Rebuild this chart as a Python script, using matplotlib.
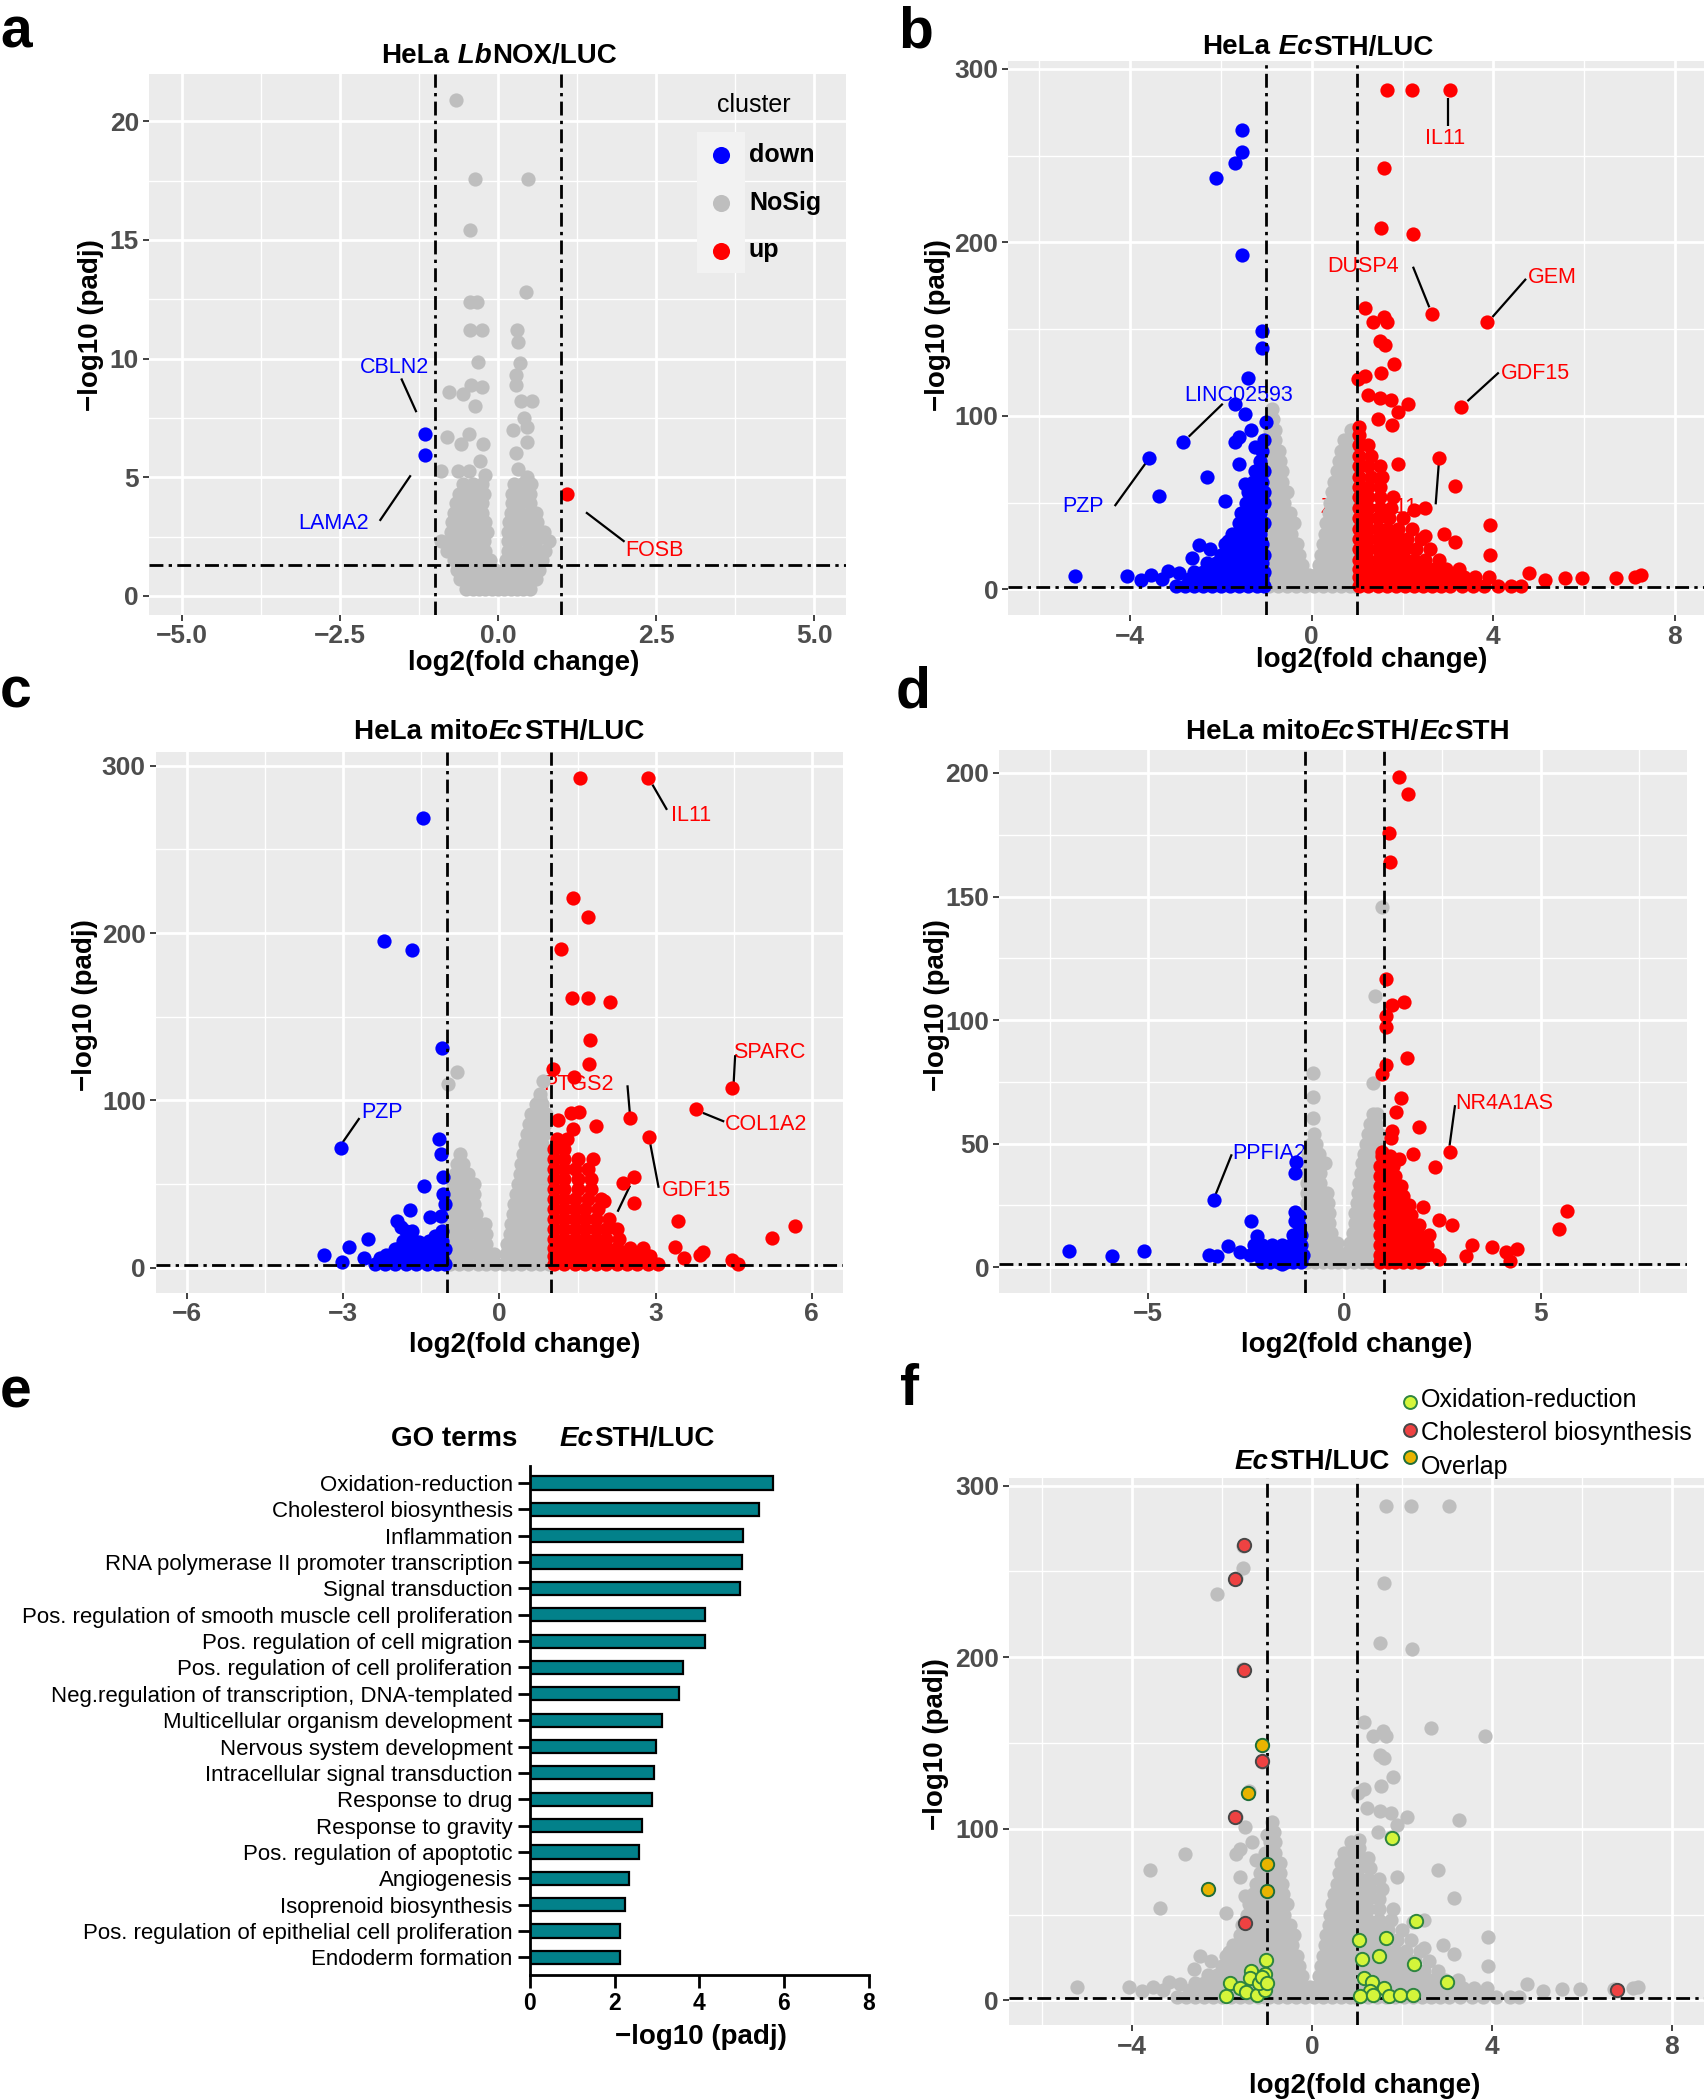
import matplotlib
matplotlib.use("Agg")
import matplotlib.pyplot as plt
from matplotlib import font_manager
from matplotlib.patches import Rectangle

# ======================= DATA =======================
# ---- panel a : HeLa LbNOX/LUC ----
a_nosig = [(-0.67, 20.9), (-0.37, 17.56), (0.47, 17.56), (-0.45, 15.4), (0.44, 12.8),
           (-0.45, 12.4), (-0.34, 12.4), (0.30, 11.2), (0.32, 10.7), (-0.44, 11.2),
           (-0.26, 11.2), (-0.32, 9.85), (0.35, 9.8), (0.29, 9.3), (0.29, 8.9),
           (-0.42, 8.9), (-0.26, 8.8), (-0.77, 8.57), (-0.55, 8.5), (-0.37, 8.0),
           (0.37, 8.2), (0.54, 8.2), (0.41, 7.5), (0.24, 7.0), (0.45, 7.1),
           (-0.81, 6.7), (-0.46, 6.8), (-0.59, 6.4), (-0.24, 6.4), (0.45, 6.5),
           (0.28, 6.0), (-0.29, 5.7), (-0.90, 5.27), (-0.64, 5.27), (-0.46, 5.27),
           (0.32, 5.36), (-0.20, 5.1), (0.45, 5.0)]
a_nosig_rows = [
    (0.3, [-0.5, -0.4, -0.3, -0.2, -0.1, 0.0, 0.1, 0.2, 0.3, 0.4, 0.5]),
    (0.7, [-0.6, -0.45, -0.3, -0.15, 0.0, 0.15, 0.3, 0.45, 0.6]),
    (1.1, [-0.65, -0.5, -0.35, -0.2, -0.05, 0.1, 0.25, 0.4, 0.55, 0.65]),
    (1.5, [-0.7, -0.55, -0.4, -0.25, -0.12, 0.12, 0.25, 0.4, 0.55, 0.7]),
    (1.9, [-0.8, -0.65, -0.5, -0.35, -0.2, 0.15, 0.3, 0.45, 0.6, 0.75]),
    (2.3, [-0.9, -0.72, -0.55, -0.4, -0.22, 0.15, 0.3, 0.45, 0.6, 0.8]),
    (2.7, [-0.75, -0.6, -0.45, -0.3, -0.18, 0.15, 0.3, 0.45, 0.6, 0.72]),
    (3.1, [-0.72, -0.58, -0.44, -0.3, -0.2, 0.18, 0.32, 0.46, 0.62]),
    (3.5, [-0.7, -0.55, -0.4, -0.25, 0.2, 0.35, 0.5, 0.6]),
    (3.9, [-0.66, -0.52, -0.38, -0.25, 0.22, 0.35, 0.5]),
    (4.3, [-0.62, -0.48, -0.35, -0.22, 0.22, 0.35, 0.5]),
    (4.7, [-0.55, -0.4, -0.25, 0.25, 0.38, 0.52]),
]
a_down = [(-1.16, 6.8), (-1.16, 5.94)]
a_up = [(1.09, 4.29)]
a_xticks = [-5.0, -2.5, 0.0, 2.5, 5.0]
a_xticklabels = ["\u22125.0", "\u22122.5", "0.0", "2.5", "5.0"]
a_yticks = [0, 5, 10, 15, 20]
a_labels = [("CBLN2", -1.64, 9.62, -1.53, 9.16, -1.29, 7.74, "down"),
            ("LAMA2", -2.60, 3.06, -1.87, 3.16, -1.38, 5.08, "down"),
            ("FOSB", 2.47, 1.93, 1.39, 3.52, 2.00, 2.28, "up")]
legend_cats = ["down", "NoSig", "up"]

# ---- panel b : HeLa EcSTH/LUC ----
b_nosig_rows = [
    (2, [-0.95, -0.75, -0.55, -0.35, -0.15, 0.05, 0.25, 0.45, 0.65, 0.85, 0.95]),
    (8, [-0.95, -0.77, -0.58, -0.4, -0.2, -0.05, 0.1, 0.28, 0.46, 0.64, 0.82, 0.95]),
    (14, [-0.95, -0.77, -0.58, -0.4, -0.22, 0.15, 0.32, 0.5, 0.68, 0.85, 0.95]),
    (20, [-0.95, -0.77, -0.6, -0.42, -0.28, 0.2, 0.38, 0.56, 0.74, 0.9]),
    (26, [-0.95, -0.78, -0.6, -0.45, -0.32, 0.25, 0.42, 0.6, 0.78, 0.95]),
    (32, [-0.95, -0.78, -0.62, -0.45, 0.3, 0.48, 0.65, 0.82, 0.95]),
    (38, [-0.95, -0.78, -0.62, -0.4, 0.32, 0.5, 0.68, 0.85]),
    (44, [-0.95, -0.8, -0.62, -0.48, 0.37, 0.55, 0.72, 0.9]),
    (50, [-0.95, -0.8, -0.62, 0.4, 0.58, 0.75, 0.92]),
    (56, [-0.95, -0.8, -0.64, -0.55, 0.45, 0.62, 0.8, 0.95]),
    (62, [-0.95, -0.8, -0.65, 0.5, 0.65, 0.82]),
    (68, [-0.95, -0.8, -0.66, 0.55, 0.7, 0.86]),
    (74, [-0.95, -0.82, -0.7, 0.6, 0.75, 0.92]),
    (80, [-0.95, -0.82, -0.72, 0.65, 0.8, 0.95]),
    (86, [-0.95, -0.82, 0.72, 0.86]),
    (92, [-0.93, -0.82, 0.87]),
    (98, [-0.9, -0.85]),
    (104, [-0.88]),
]
b_down = [(-1.53, 265), (-1.53, 252), (-1.69, 246), (-2.11, 237), (-1.54, 193),
          (-1.10, 149), (-1.10, 139), (-1.40, 122), (-1.69, 107), (-1.48, 101),
          (-1.00, 96.5), (-1.33, 92), (-1.60, 88), (-1.69, 85), (-1.24, 82),
          (-2.83, 85), (-3.59, 76), (-2.30, 64.6), (-3.37, 53.8), (-1.90, 50.8),
          (-1.60, 72), (-1.48, 61), (-1.84, 28), (-2.49, 25.6), (-2.25, 23),
          (-2.63, 18), (-5.22, 7.5), (-4.07, 7.5), (-3.77, 5.5), (-3.53, 8),
          (-3.17, 10.5), (-2.93, 9.3)]
b_down_rows = [
    (2, [-3.0, -2.8, -2.6, -2.4, -2.2, -2.0, -1.8, -1.6, -1.4, -1.2, -1.05]),
    (6, [-3.3, -2.7, -2.5, -2.3, -2.1, -1.9, -1.7, -1.5, -1.3, -1.1]),
    (10, [-2.6, -2.4, -2.2, -2.0, -1.8, -1.6, -1.4, -1.2, -1.05]),
    (15, [-2.3, -2.1, -1.9, -1.7, -1.5, -1.3, -1.1]),
    (20, [-2.0, -1.8, -1.6, -1.4, -1.2, -1.05]),
    (26, [-1.9, -1.7, -1.5, -1.3, -1.1]),
    (32, [-1.75, -1.55, -1.35, -1.15]),
    (38, [-1.6, -1.4, -1.2, -1.05]),
    (44, [-1.55, -1.35, -1.15]),
    (50, [-1.45, -1.25, -1.05]),
    (56, [-1.4, -1.2, -1.05]),
    (62, [-1.3, -1.1]),
    (68, [-1.25, -1.05]),
    (74, [-1.15]),
    (80, [-1.1]),
    (86, [-1.05]),
]
b_up = [(1.65, 288), (2.20, 288), (3.04, 288), (1.60, 243), (1.52, 208.5), (2.23, 205),
        (2.65, 159), (3.86, 154), (1.17, 162), (1.35, 154), (1.65, 154), (1.59, 157),
        (1.51, 143), (1.61, 141), (1.81, 130), (1.53, 125), (1.17, 123), (1.02, 121),
        (1.23, 112), (1.51, 110.5), (1.75, 109), (2.11, 107), (1.89, 102), (3.28, 105),
        (1.47, 98), (1.77, 95), (1.05, 93.5), (2.80, 76), (1.89, 72), (3.16, 59.5),
        (3.92, 37), (3.16, 27), (3.92, 20), (4.78, 9.3), (5.14, 5.5), (5.57, 6.3),
        (5.96, 6.8), (6.71, 6.8), (7.13, 7.3), (7.25, 8), (4.60, 1.8), (2.49, 30.6),
        (2.92, 32), (2.49, 47), (2.25, 45.7)]
b_up_rows = [
    (2, [1.05, 1.25, 1.45, 1.65, 1.85, 2.05, 2.25, 2.45, 2.65, 2.85, 3.05, 3.3, 3.55, 3.8, 4.1, 4.4]),
    (7, [1.05, 1.25, 1.45, 1.65, 1.85, 2.05, 2.25, 2.45, 2.65, 2.85, 3.1, 3.35, 3.6, 3.9]),
    (12, [1.05, 1.25, 1.45, 1.65, 1.85, 2.05, 2.25, 2.45, 2.7, 2.95, 3.25]),
    (17, [1.05, 1.25, 1.45, 1.65, 1.85, 2.05, 2.25, 2.5, 2.8]),
    (23, [1.05, 1.25, 1.45, 1.65, 1.85, 2.05, 2.3, 2.6]),
    (29, [1.05, 1.25, 1.45, 1.65, 1.85, 2.1, 2.4]),
    (35, [1.05, 1.25, 1.45, 1.65, 1.9, 2.2]),
    (41, [1.05, 1.25, 1.45, 1.7, 2.0]),
    (47, [1.05, 1.25, 1.5, 1.75]),
    (53, [1.05, 1.25, 1.5, 1.8]),
    (59, [1.05, 1.25, 1.5]),
    (65, [1.05, 1.3, 1.55]),
    (71, [1.05, 1.25, 1.5]),
    (77, [1.05, 1.3]),
    (83, [1.05, 1.25]),
    (89, [1.05]),
]
b_xticks = [-4, 0, 4, 8]
b_xticklabels = ["\u22124", "0", "4", "8"]
b_yticks = [0, 100, 200, 300]
b_labels = [("IL11", 2.94, 260, 3.01, 283, 3.01, 267, "up"),
            ("DUSP4", 1.14, 186, 2.23, 186, 2.59, 162.6, "up"),
            ("GEM", 5.29, 180, 4.72, 179, 3.98, 157, "up"),
            ("GDF15", 4.93, 124.6, 4.12, 125, 3.43, 108.5, "up"),
            ("LINC02593", -1.60, 112, -1.96, 107, -2.71, 88, "down"),
            ("PZP", -5.04, 47.7, -4.34, 48, -3.65, 73, "down"),
            ("ZDHHC11", 1.27, 47, 2.73, 49, 2.80, 73, "up")]

# ---- panel c : HeLa mitoEcSTH/LUC ----
c_nosig = [(-0.81, 116.8), (-0.98, 110), (0.78, 101), (0.84, 111.5), (0.66, 89)]
c_nosig_rows = [
    (2, [-0.95, -0.78, -0.6, -0.42, -0.25, -0.08, 0.08, 0.25, 0.42, 0.6, 0.78, 0.95]),
    (8, [-0.95, -0.78, -0.6, -0.42, -0.25, -0.1, 0.12, 0.28, 0.45, 0.62, 0.8, 0.95]),
    (14, [-0.95, -0.78, -0.6, -0.42, -0.25, 0.15, 0.32, 0.5, 0.68, 0.85, 0.95]),
    (20, [-0.95, -0.78, -0.6, -0.42, -0.25, 0.2, 0.36, 0.52, 0.68, 0.85, 0.95]),
    (26, [-0.95, -0.78, -0.6, -0.42, -0.28, 0.22, 0.4, 0.56, 0.72, 0.88]),
    (32, [-0.95, -0.78, -0.6, -0.45, 0.26, 0.42, 0.58, 0.75, 0.92]),
    (38, [-0.95, -0.78, -0.62, -0.48, 0.28, 0.45, 0.62, 0.78, 0.95]),
    (44, [-0.92, -0.76, -0.6, -0.48, 0.32, 0.48, 0.65, 0.82, 0.95]),
    (50, [-0.9, -0.75, -0.6, -0.48, 0.36, 0.52, 0.68, 0.85]),
    (56, [-0.86, -0.72, -0.6, 0.4, 0.56, 0.72, 0.88]),
    (62, [-0.82, -0.7, 0.42, 0.58, 0.75, 0.92]),
    (68, [-0.75, 0.46, 0.62, 0.78, 0.95]),
    (74, [0.5, 0.65, 0.82]),
    (80, [0.52, 0.68, 0.85]),
    (86, [0.56, 0.72, 0.88]),
    (92, [0.6, 0.76, 0.9]),
    (98, [0.7, 0.82]),
    (104, [0.78]),
]
c_down = [(-1.47, 268.7), (-2.22, 195), (-1.68, 190), (-1.11, 131.6), (-3.05, 71.7),
          (-1.17, 77), (-1.12, 67.8), (-1.09, 54), (-1.45, 49), (-1.72, 34.7),
          (-1.34, 30), (-1.97, 28), (-1.90, 24), (-1.68, 21.6), (-1.55, 15),
          (-2.52, 17), (-2.90, 12.5), (-3.37, 7.3), (-3.03, 3.4), (-2.61, 6),
          (-2.18, 7.3), (-1.97, 11.2), (-1.71, 12.5), (-1.44, 4.7), (-1.23, 19),
          (-1.12, 30.8)]
c_down_rows = [
    (2, [-2.4, -2.2, -2.0, -1.8, -1.6, -1.4, -1.2, -1.05]),
    (6, [-2.3, -2.1, -1.9, -1.7, -1.5, -1.3, -1.1]),
    (11, [-2.0, -1.8, -1.6, -1.4, -1.2, -1.05]),
    (16, [-1.85, -1.65, -1.35, -1.1]),
    (22, [-1.8, -1.1]),
    (38, [-1.05]),
    (44, [-1.08]),
]
c_up = [(1.55, 292.7), (2.86, 292.7), (1.42, 221), (1.71, 209.8), (1.19, 190.5),
        (1.39, 161), (1.70, 161), (2.13, 159), (1.74, 136.3), (1.72, 122), (1.02, 118.6),
        (1.44, 114), (4.47, 107.6), (3.78, 94.6), (2.51, 89.4), (2.88, 78.2), (1.37, 92.5),
        (1.53, 93.3), (1.12, 88), (1.85, 84.7), (1.42, 83), (2.59, 54), (2.38, 50.3),
        (2.59, 38.6), (3.44, 28), (3.37, 12.5), (3.54, 6), (3.86, 7.8), (3.91, 9.4),
        (4.46, 4.7), (4.58, 2), (5.23, 17.7), (5.68, 24.8), (2.0, 40)]
c_up_rows = [
    (2, [1.05, 1.25, 1.45, 1.65, 1.85, 2.05, 2.25, 2.45, 2.65, 2.85, 3.05]),
    (7, [1.05, 1.25, 1.45, 1.65, 1.85, 2.05, 2.25, 2.45, 2.7, 2.9]),
    (12, [1.05, 1.25, 1.45, 1.65, 1.85, 2.05, 2.25, 2.5, 2.75]),
    (17, [1.05, 1.25, 1.45, 1.65, 1.85, 2.05, 2.3]),
    (23, [1.05, 1.25, 1.45, 1.65, 1.85, 2.05, 2.25]),
    (29, [1.05, 1.25, 1.45, 1.65, 1.85, 2.1]),
    (35, [1.05, 1.25, 1.45, 1.65, 1.9]),
    (41, [1.05, 1.25, 1.45, 1.7, 1.95]),
    (47, [1.05, 1.25, 1.5, 1.75]),
    (53, [1.05, 1.25, 1.5, 1.75]),
    (59, [1.05, 1.25, 1.45, 1.7]),
    (65, [1.05, 1.25, 1.5, 1.8]),
    (71, [1.05, 1.25]),
    (77, [1.1, 1.3]),
]
c_xticks = [-6, -3, 0, 3, 6]
c_xticklabels = ["\u22126", "\u22123", "0", "3", "6"]
c_yticks = [0, 100, 200, 300]
c_labels = [("IL11", 3.68, 270.5, 2.94, 288.8, 3.22, 273.7, "up"),
            ("SPARC", 5.19, 128.5, 4.50, 110, 4.53, 127, "up"),
            ("COL1A2", 5.13, 85.5, 3.91, 92.5, 4.32, 87.3, "up"),
            ("PTGS2", 1.51, 109.5, 2.46, 109, 2.51, 90.7, "up"),
            ("GDF15", 3.78, 45.9, 3.06, 47.7, 2.90, 73.8, "up"),
            ("", 0, 0, 2.51, 49, 2.27, 33.4, "up"),
            ("PZP", -2.26, 92.8, -2.69, 89.4, -3.01, 75, "down")]

# ---- panel d : HeLa mitoEcSTH/EcSTH ----
d_nosig = [(-0.81, 78.8), (-0.81, 69), (-0.81, 60.3), (0.77, 109.7), (0.73, 74.4), (0.96, 145.9)]
d_nosig_rows = [
    (2, [-0.95, -0.75, -0.55, -0.35, -0.15, 0.05, 0.25, 0.45, 0.65, 0.85]),
    (6, [-0.95, -0.75, -0.55, -0.35, -0.15, 0.1, 0.3, 0.5, 0.7, 0.88]),
    (10, [-0.95, -0.75, -0.55, -0.35, -0.18, 0.15, 0.35, 0.55, 0.75, 0.9]),
    (14, [-0.95, -0.75, -0.55, -0.35, 0.22, 0.42, 0.62, 0.82]),
    (18, [-0.95, -0.75, -0.55, -0.38, 0.26, 0.45, 0.65, 0.85]),
    (22, [-0.95, -0.77, -0.58, -0.4, 0.28, 0.48, 0.68, 0.88]),
    (26, [-0.95, -0.77, -0.58, -0.42, 0.32, 0.5, 0.7, 0.88]),
    (30, [-0.95, -0.78, -0.6, -0.45, 0.35, 0.52, 0.72, 0.88]),
    (34, [-0.95, -0.78, -0.62, 0.38, 0.55, 0.72, 0.88]),
    (38, [-0.95, -0.8, -0.62, 0.42, 0.58, 0.75, 0.9]),
    (42, [-0.95, -0.8, -0.65, -0.5, 0.45, 0.62, 0.78, 0.9]),
    (46, [-0.92, -0.78, -0.65, 0.5, 0.65, 0.8, 0.9]),
    (50, [-0.85, -0.72, 0.55, 0.7, 0.85]),
    (54, [-0.78, 0.6, 0.75, 0.88]),
    (58, [0.65, 0.8]),
    (62, [0.72, 0.82]),
]
d_down = [(-3.32, 27.2), (-1.23, 42.7), (-1.26, 38.3), (-1.27, 22.4), (-1.27, 18.9),
          (-1.16, 17.1), (-2.37, 18.9), (-2.23, 12.7), (-2.20, 10), (-2.97, 8.6),
          (-2.66, 6.2), (-3.46, 5.1), (-3.25, 4.4), (-7.02, 6.5), (-5.93, 4.4),
          (-5.10, 6.5), (-1.99, 6.5), (-1.72, 4.8), (-1.44, 6.2), (-1.23, 10),
          (-1.99, 3), (-1.58, 1.2), (-1.16, 20.6)]
d_down_rows = [
    (2, [-2.1, -1.9, -1.7, -1.5, -1.3, -1.1]),
    (5, [-2.4, -2.2, -2.0, -1.8, -1.6, -1.4, -1.2, -1.05]),
    (9, [-2.3, -2.1, -1.85, -1.6, -1.35, -1.1]),
    (13, [-1.3, -1.1]),
]
d_up = [(1.38, 198.4), (1.63, 191.4), (1.14, 175.8), (1.17, 164), (1.05, 116.6),
        (1.53, 107.4), (1.21, 106), (1.07, 101.8), (1.07, 97.4), (1.60, 84.5),
        (1.07, 82), (0.96, 78), (1.44, 68.3), (1.32, 63), (1.91, 56.8), (1.21, 55),
        (1.19, 52.4), (2.68, 46.7), (0.96, 46.7), (1.74, 45.7), (1.39, 44), (2.30, 40.6),
        (2.00, 24.2), (2.40, 19.2), (2.75, 17.1), (5.68, 22.8), (5.47, 15.3), (3.24, 9.2),
        (3.10, 4.4), (3.77, 8.3), (4.11, 6.2), (4.39, 7.4), (4.21, 2.5), (2.40, 3.4)]
d_up_rows = [
    (2, [0.9, 1.1, 1.3, 1.5, 1.7, 1.9]),
    (5, [0.9, 1.1, 1.3, 1.5, 1.7, 1.9, 2.1, 2.3]),
    (9, [0.9, 1.1, 1.3, 1.5, 1.7, 1.9, 2.1]),
    (13, [0.9, 1.1, 1.3, 1.5, 1.7, 1.9, 2.15]),
    (17, [0.9, 1.1, 1.3, 1.5, 1.7, 1.9]),
    (21, [0.9, 1.1, 1.3, 1.5, 1.7]),
    (25, [0.9, 1.1, 1.3, 1.5, 1.65]),
    (29, [0.9, 1.1, 1.3, 1.5]),
    (33, [0.9, 1.1, 1.3, 1.45]),
    (37, [0.9, 1.1, 1.3]),
    (41, [0.9, 1.1, 1.25]),
    (45, [0.95, 1.15]),
]
d_xticks = [-5, 0, 5]
d_xticklabels = ["\u22125", "0", "5"]
d_yticks = [0, 50, 100, 150, 200]
d_labels = [("NR4A1AS", 4.07, 66.1, 2.82, 65.6, 2.68, 49.2, "up"),
            ("PPFIA2", -1.92, 46.2, -2.87, 45.7, -3.28, 29.5, "down")]

# ---- panel e : GO terms EcSTH/LUC ----
go_terms = ["Oxidation-reduction", "Cholesterol biosynthesis", "Inflammation",
            "RNA polymerase II promoter transcription", "Signal transduction",
            "Pos. regulation of smooth muscle cell proliferation",
            "Pos. regulation of cell migration", "Pos. regulation of cell proliferation",
            "Neg.regulation of transcription, DNA-templated",
            "Multicellular organism development", "Nervous system development",
            "Intracellular signal transduction", "Response to drug",
            "Response to gravity", "Pos. regulation of apoptotic", "Angiogenesis",
            "Isoprenoid biosynthesis", "Pos. regulation of epithelial cell proliferation",
            "Endoderm formation"]
go_values = [5.73, 5.41, 5.04, 5.00, 4.97, 4.13, 4.13, 3.62, 3.53, 3.13, 2.97, 2.92,
             2.88, 2.65, 2.58, 2.34, 2.24, 2.13, 2.13]
e_xticks = [0, 2, 4, 6, 8]

# ---- panel f : EcSTH/LUC highlighted GO genes ----
f_oxred = [(1.79, 94.6), (2.31, 46), (1.65, 36.3), (1.05, 35.2), (1.11, 24.3), (1.50, 25.9),
           (2.26, 21), (3.01, 10.6), (1.16, 12.8), (1.34, 10.9), (1.60, 7.4), (1.30, 5.2),
           (1.08, 2.5), (1.72, 2.5), (1.96, 3.3), (2.24, 3.3), (1.36, 3.3), (-1.01, 23.2),
           (-1.35, 16.9), (-1.05, 15.5), (-1.83, 10.1), (-1.59, 7.4), (-1.47, 4.6),
           (-1.23, 3.3), (-1.05, 6.0), (-1.91, 2.5), (-1.37, 12.8), (-1.17, 10.1),
           (-1.11, 13.4), (-0.99, 10.1)]
f_chol = [(-1.52, 265.3), (-1.71, 245.7), (-1.52, 192.5), (-1.10, 139.6), (-1.72, 106.9),
          (-1.48, 45.3), (6.79, 6.0)]
f_overlap = [(-1.10, 148.6), (-1.42, 121), (-0.99, 79.6), (-0.99, 63.8), (-2.30, 64.6)]
f_legend = ["Oxidation-reduction", "Cholesterol biosynthesis", "Overlap"]

# ======================= STYLE / LAYOUT =======================
W, H = 1704, 2100
fig = plt.figure(figsize=(W / 100, H / 100), dpi=100)
fig.patch.set_facecolor("white")

_names = {f.name for f in font_manager.fontManager.ttflist}
SANS = "Liberation Sans" if "Liberation Sans" in _names else "DejaVu Sans"
HAS_NARROW = "Liberation Sans Narrow" in _names
plt.rcParams["font.family"] = [SANS, "DejaVu Sans"]
LBL_FAMILY = ["Liberation Sans Narrow", "DejaVu Sans"] if HAS_NARROW else [SANS, "DejaVu Sans"]
LBL_SIZE = 17.5 if HAS_NARROW else 15.5

BG = "#EBEBEB"
COLORS = {"down": "#0000FF", "NoSig": "#BEBEBE", "up": "#FF0000"}
TEAL = "#02818A"
OX_FILL, OX_EDGE = "#D4F53A", "#2E8540"
CH_FILL, CH_EDGE = "#EE4242", "#474747"
OV_FILL, OV_EDGE = "#E8B400", "#1F6E3A"
DOT = 105
DASH_LW = 2.0
DASH = (0, (5.0, 1.9, 1.2, 1.9))


def fx(x):
    return x / W


def fy(y):
    return 1 - y / H


def px_axes(l, t, r, b):
    return fig.add_axes([l / W, 1 - b / H, (r - l) / W, (b - t) / H])


def rows_xy(rows):
    xs, ys = [], []
    for y, row in rows:
        for x in row:
            xs.append(x)
            ys.append(y)
    return xs, ys


def pairs_xy(pairs):
    return [p[0] for p in pairs], [p[1] for p in pairs]


def merge(*parts):
    xs, ys = [], []
    for px_, py_ in parts:
        xs += px_
        ys += py_
    return xs, ys


def minors(major):
    st = major[1] - major[0]
    return [major[0] - st / 2 + k * st for k in range(len(major) + 1)]


def rich(xc, yb, parts, size, weight="bold", color="black", gap=0.8):
    r = fig.canvas.get_renderer()
    objs = [fig.text(0, fy(yb), s, fontsize=size, fontweight=weight,
                     fontstyle=("italic" if it else "normal"), color=color,
                     va="baseline", ha="left") for s, it in parts]
    ws = [o.get_window_extent(renderer=r).width for o in objs]
    total = sum(ws) + gap * (len(ws) - 1)
    x = xc - total / 2
    for o, w in zip(objs, ws):
        o.set_x(fx(x))
        x += w + gap


def volcano(ax, xlim, ylim, xt, xtl, yt, groups, labels):
    ax.set_facecolor(BG)
    for s in ax.spines.values():
        s.set_visible(False)
    ax.set_xticks(xt)
    ax.set_xticklabels(xtl)
    ax.set_xticks(minors(xt), minor=True)
    ax.set_yticks(yt)
    ax.set_yticklabels([str(v) for v in yt])
    ax.set_yticks(minors(yt), minor=True)
    ax.set_axisbelow(True)
    ax.grid(which="major", color="white", lw=2.0)
    ax.grid(which="minor", color="white", lw=1.0)
    ax.tick_params(which="minor", length=0)
    ax.tick_params(which="major", length=4.5, width=1.3, color="#333333",
                   labelcolor="#4D4D4D", labelsize=19, pad=2.5)
    for lab in ax.get_xticklabels() + ax.get_yticklabels():
        lab.set_fontweight("bold")
    for (xs, ys), kw in groups:
        ax.scatter(xs, ys, s=kw.pop("s", DOT), zorder=kw.pop("zorder", 2),
                   clip_on=True, **kw)
    for xv in (-1, 1):
        ax.axvline(xv, color="black", lw=DASH_LW, ls=DASH, zorder=4)
    ax.axhline(1.3, color="black", lw=DASH_LW, ls=DASH, zorder=4)
    for txt, tx, ty, x0, y0, x1, y1, cat in labels:
        if txt:
            ax.text(tx, ty, txt, color=COLORS[cat], fontsize=LBL_SIZE, family=LBL_FAMILY,
                    ha="center", va="center", zorder=1.5)
        ax.plot([x0, x1], [y0, y1], color="black", lw=1.6, zorder=1.6,
                solid_capstyle="butt")
    ax.set_xlim(*xlim)
    ax.set_ylim(*ylim)


def std_groups(nosig, down, up):
    return [(nosig, dict(c=COLORS["NoSig"], linewidths=0)),
            (down, dict(c=COLORS["down"], linewidths=0)),
            (up, dict(c=COLORS["up"], linewidths=0))]


# ---------------- panel a ----------------
ax_a = px_axes(148.8, 74, 846, 614.6)
volcano(ax_a, (-5.52, 5.50), (-0.79, 21.99), a_xticks, a_xticklabels, a_yticks,
        std_groups(merge(pairs_xy(a_nosig), rows_xy(a_nosig_rows)),
                   pairs_xy(a_down), pairs_xy(a_up)),
        a_labels)
# legend (cluster)
fig.patches.append(Rectangle((fx(697), fy(273)), (745 - 697) / W, (273 - 132) / H,
                             transform=fig.transFigure, facecolor="#F2F2F2",
                             edgecolor="none", zorder=5))
fig.text(fx(754), fy(105), "cluster", fontsize=18, ha="center", va="center", zorder=6)
for cat, ym, yb in zip(legend_cats, [155, 202.5, 251], [161.7, 210, 256.7]):
    fig.lines.append(plt.Line2D([fx(721)], [fy(ym)], marker="o", ms=12.3, color=COLORS[cat],
                                mew=0, transform=fig.transFigure, zorder=6))
    fig.text(fx(749), fy(yb), cat, fontsize=18, fontweight="bold", ha="left",
             va="baseline", zorder=6)

# ---------------- panel b ----------------
b_ns = rows_xy(b_nosig_rows)
b_dn = merge(pairs_xy(b_down), rows_xy(b_down_rows))
b_upx = merge(pairs_xy(b_up), rows_xy(b_up_rows))
ax_b = px_axes(1008, 61, 1704, 615)
volcano(ax_b, (-6.69, 8.64), (-14.8, 304.6), b_xticks, b_xticklabels, b_yticks,
        std_groups(b_ns, b_dn, b_upx), b_labels)

# ---------------- panel c ----------------
ax_c = px_axes(155.5, 752, 843.4, 1292.5)
volcano(ax_c, (-6.61, 6.61), (-14.9, 308.3), c_xticks, c_xticklabels, c_yticks,
        std_groups(merge(pairs_xy(c_nosig), rows_xy(c_nosig_rows)),
                   merge(pairs_xy(c_down), rows_xy(c_down_rows)),
                   merge(pairs_xy(c_up), rows_xy(c_up_rows))),
        c_labels)

# ---------------- panel d ----------------
ax_d = px_axes(999, 749.7, 1687.4, 1292.5)
volcano(ax_d, (-8.80, 8.74), (-10.2, 209.4), d_xticks, d_xticklabels, d_yticks,
        std_groups(merge(pairs_xy(d_nosig), rows_xy(d_nosig_rows)),
                   merge(pairs_xy(d_down), rows_xy(d_down_rows)),
                   merge(pairs_xy(d_up), rows_xy(d_up_rows))),
        d_labels)

# ---------------- panel e ----------------
ax_e = px_axes(530, 1466, 868.6, 1975)
ax_e.barh(range(len(go_terms)), go_values, height=0.5, color=TEAL, edgecolor="black",
          linewidth=1.6, zorder=2)
for s in ("top", "right"):
    ax_e.spines[s].set_visible(False)
for s in ("left", "bottom"):
    ax_e.spines[s].set_linewidth(2.0)
ax_e.set_yticks(range(len(go_terms)))
ax_e.set_yticklabels(go_terms, fontsize=16)
ax_e.set_xticks(e_xticks)
ax_e.set_xticklabels([str(v) for v in e_xticks], fontsize=16.5, fontweight="bold")
ax_e.tick_params(axis="both", length=9, width=2.0, pad=3.5)
ax_e.set_facecolor("white")
ax_e.set_xlim(0, 8)
ax_e.set_ylim(18.67, -0.645)

# ---------------- panel f ----------------
ax_f = px_axes(1008.8, 1477.6, 1704, 2025)
f_all = merge(b_ns, b_dn, b_upx)
volcano(ax_f, (-6.74, 8.72), (-14.4, 304.7), b_xticks, b_xticklabels, b_yticks,
        [(f_all, dict(c=COLORS["NoSig"], linewidths=0)),
         (pairs_xy(f_oxred), dict(c=OX_FILL, edgecolors=OX_EDGE, linewidths=1.4, s=92, zorder=5)),
         (pairs_xy(f_chol), dict(c=CH_FILL, edgecolors=CH_EDGE, linewidths=1.4, s=92, zorder=5)),
         (pairs_xy(f_overlap), dict(c=OV_FILL, edgecolors=OV_EDGE, linewidths=1.4, s=92, zorder=5))],
        [])
for name, fc, ec, ym, yb in zip(f_legend, [OX_FILL, CH_FILL, OV_FILL], [OX_EDGE, CH_EDGE, OV_EDGE],
                                [1401.7, 1430, 1456.7], [1406.7, 1440, 1474]):
    fig.lines.append(plt.Line2D([fx(1410)], [fy(ym)], marker="o", ms=9.3, mfc=fc, mec=ec,
                                mew=1.4, transform=fig.transFigure, zorder=6))
    fig.text(fx(1420.7), fy(yb), name, fontsize=18, ha="left", va="baseline")

# ---------------- titles / axis titles ----------------
rich(499, 63, [("HeLa", False), (" Lb", True), ("NOX/LUC", False)], 20)
rich(1318, 54.5, [("HeLa", False), (" Ec", True), ("STH/LUC", False)], 20)
rich(499, 739, [("HeLa mito", False), ("Ec", True), ("STH/LUC", False)], 20)
rich(1348, 739, [("HeLa mito", False), ("Ec", True), ("STH/", False), ("Ec", True), ("STH", False)], 20)
fig.text(fx(454), fy(1446), "GO terms", fontsize=20, fontweight="bold", ha="center", va="baseline")
rich(637, 1446, [("Ec", True), ("STH/LUC", False)], 20)
rich(1311.8, 1469, [("Ec", True), ("STH/LUC", False)], 20)

for cx, cy in [(523.7, 662.6), (1371.6, 660.4), (525, 1344.8), (1356.3, 1344.8), (1364.9, 2086)]:
    fig.text(fx(cx), fy(cy), "log2(fold change)", fontsize=20, fontweight="bold",
             ha="center", va="center")
for cx, cy in [(91, 324.8), (937.6, 324.8), (85.4, 1004.8), (936.5, 1004.8), (935.8, 1744.4)]:
    fig.text(fx(cx), fy(cy), "\u2212log10 (padj)", fontsize=20, fontweight="bold",
             ha="center", va="center", rotation=90)
fig.text(fx(701), fy(2037), "\u2212log10 (padj)", fontsize=20, fontweight="bold",
         ha="center", va="center")

# panel letters
for letter, x, yb in [("a", 0, 48), ("b", 898, 48), ("c", 0, 708), ("d", 896, 708),
                      ("e", 0, 1407), ("f", 900, 1405)]:
    fig.text(fx(x), fy(yb), letter, fontsize=41, fontweight="bold", ha="left", va="baseline")

fig.savefig("out.png", dpi=100, facecolor="white")
